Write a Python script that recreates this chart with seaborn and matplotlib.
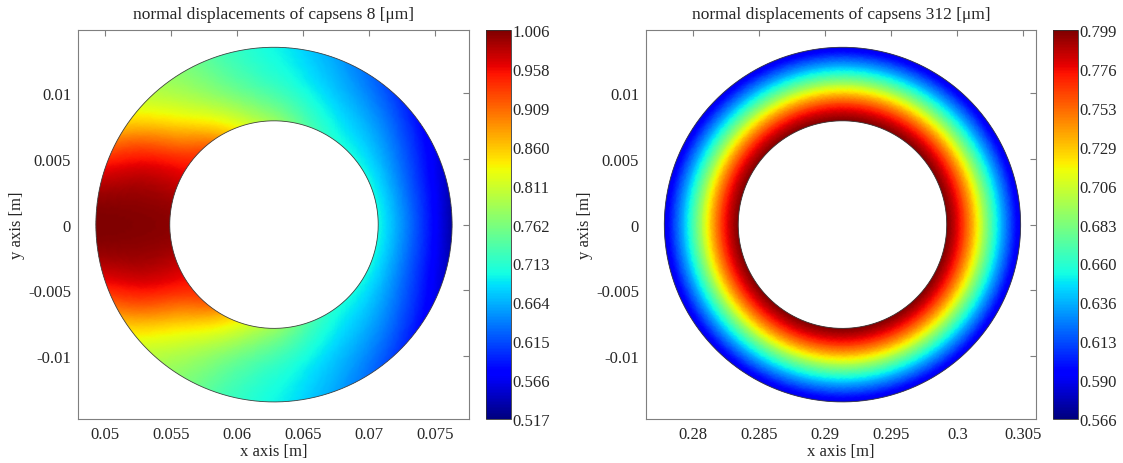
import numpy as np
import matplotlib
matplotlib.use("Agg")
import matplotlib.pyplot as plt
import matplotlib.tri as mtri
from matplotlib.path import Path
from matplotlib.patches import PathPatch
import seaborn as sns

# ring geometry [m]
r_inner = 0.0079
r_outer = 0.0135
cap8_cx = 0.0628
cap312_cx = 0.2913

# node angles (deg) on the upper half, lower half is mirrored
cap8_angles = np.arange(0, 181, 15)

# capsens 8 displacement [um] at inner / mid / outer radius
cap8_radii = [r_inner, 0.0107, r_outer]
cap8_inner = [0.700, 0.700, 0.700, 0.702, 0.715, 0.745, 0.780, 0.815, 0.870, 0.925, 0.960, 0.990, 1.000]
cap8_mid = [0.620, 0.622, 0.636, 0.655, 0.672, 0.695, 0.720, 0.750, 0.795, 0.855, 0.940, 0.990, 1.004]
cap8_outer = [0.530, 0.545, 0.570, 0.600, 0.635, 0.668, 0.698, 0.725, 0.765, 0.805, 0.885, 0.975, 1.006]

# capsens 312: radial profile, same all round
cap312_angles = np.arange(0, 181, 5)
cap312_radii = [r_inner, 0.0093, 0.0107, 0.0121, r_outer]
cap312_profile = [0.799, 0.758, 0.695, 0.635, 0.585]

cap8_ticks = ["0.517", "0.566", "0.615", "0.664", "0.713", "0.762", "0.811", "0.860", "0.909", "0.958", "1.006"]
cap312_ticks = ["0.566", "0.590", "0.613", "0.636", "0.660", "0.683", "0.706", "0.729", "0.753", "0.776", "0.799"]

sns.set_style("white")
plt.rcParams["font.family"] = ["Liberation Serif", "DejaVu Serif"]
plt.rcParams["font.size"] = 12
jet = matplotlib.colormaps["jet"]  # seaborn refuses to hand out jet
edge = "#7f7f7f"


def ring(ax, cx, angles, radii, vals, vmin, vmax):
    vals = np.asarray(vals, dtype=float)
    n = len(angles)
    # full circle without the duplicate at -180
    full = np.concatenate([vals[:, n - 2:0:-1], vals], axis=1)
    th_deg = np.concatenate([-angles[n - 2:0:-1], angles])
    th = np.deg2rad(th_deg)
    step = np.deg2rad(angles[1] - angles[0])
    rr = np.array(radii, dtype=float)
    rr[-1] = rr[-1] / np.cos(step / 2)  # chords have to cover the outer circle
    R, T = np.meshgrid(rr, th, indexing="ij")
    x = (cx + R * np.cos(T)).ravel()
    y = (R * np.sin(T)).ravel()
    m = len(th)
    tris = []
    for i in range(len(rr) - 1):
        for j in range(m):
            a, b = i * m + j, i * m + (j + 1) % m
            c, d = (i + 1) * m + (j + 1) % m, (i + 1) * m + j
            if 0 <= th_deg[j] < 180:
                tris += [[a, b, c], [a, c, d]]
            else:  # mirrored diagonal so both halves match
                tris += [[a, b, d], [b, c, d]]
    tri = mtri.Triangulation(x, y, np.array(tris))
    z = full.ravel()
    interp = mtri.CubicTriInterpolator(tri, z, kind="min_E")
    tri_f, z_f = mtri.UniformTriRefiner(tri).refine_field(z, triinterpolator=interp, subdiv=4)
    mesh = ax.tripcolor(tri_f, z_f, shading="gouraud", cmap=jet, vmin=vmin, vmax=vmax)

    t = np.linspace(0, 2 * np.pi, 500)
    outer = np.column_stack([cx + r_outer * np.cos(t), r_outer * np.sin(t)])
    inner = np.column_stack([cx + r_inner * np.cos(t[::-1]), r_inner * np.sin(t[::-1])])
    codes = [Path.MOVETO] + [Path.LINETO] * (len(t) - 1)
    patch = PathPatch(Path(np.vstack([outer, inner]), codes + codes),
                      facecolor="none", edgecolor="#444444", lw=0.6)
    ax.add_patch(patch)
    mesh.set_clip_path(patch)
    return mesh


def style(ax, title):
    ax.set_title(title, fontsize=12.5, pad=9)
    ax.set_xlabel("x axis [m]", labelpad=1)
    ax.set_ylabel("y axis [m]", labelpad=2)
    ax.set_ylim(-0.0148, 0.0148)
    ax.set_yticks([-0.01, -0.005, 0, 0.005, 0.01])
    ax.set_yticklabels(["-0.01", "-0.005", "0", "0.005", "0.01"])
    ax.tick_params(direction="in", top=True, right=True, length=4, color=edge, pad=5)
    for s in ax.spines.values():
        s.set_color(edge)
        s.set_linewidth(0.8)


def cbar(fig, mesh, cax, vmin, vmax, labels):
    cb = fig.colorbar(mesh, cax=cax, ticks=np.linspace(vmin, vmax, 11))
    cb.ax.set_yticklabels(labels)
    cb.ax.tick_params(length=0, pad=1)
    cb.outline.set_linewidth(0.6)
    cb.outline.set_edgecolor("#333333")


fig = plt.figure(figsize=(11.23, 4.64), dpi=100)
ax1 = fig.add_axes([0.0695, 0.0948, 0.348, 0.838])
cax1 = fig.add_axes([0.4328, 0.0948, 0.0223, 0.838])
ax2 = fig.add_axes([0.5752, 0.0948, 0.3473, 0.838])
cax2 = fig.add_axes([0.9377, 0.0948, 0.0223, 0.838])

m1 = ring(ax1, cap8_cx, cap8_angles, cap8_radii, [cap8_inner, cap8_mid, cap8_outer], 0.517, 1.006)
style(ax1, "normal displacements of capsens 8 [μm]")
ax1.set_xlim(0.04795, 0.07757)
ax1.set_xticks([0.05, 0.055, 0.06, 0.065, 0.07, 0.075])
ax1.set_xticklabels(["0.05", "0.055", "0.06", "0.065", "0.07", "0.075"])
cbar(fig, m1, cax1, 0.517, 1.006, cap8_ticks)

vals312 = np.tile(np.array(cap312_profile)[:, None], (1, len(cap312_angles)))
m2 = ring(ax2, cap312_cx, cap312_angles, cap312_radii, vals312, 0.566, 0.799)
style(ax2, "normal displacements of capsens 312 [μm]")
ax2.set_xlim(0.27641, 0.30596)
ax2.set_xticks([0.28, 0.285, 0.29, 0.295, 0.3, 0.305])
ax2.set_xticklabels(["0.28", "0.285", "0.29", "0.295", "0.3", "0.305"])
cbar(fig, m2, cax2, 0.566, 0.799, cap312_ticks)

fig.savefig("out.png", dpi=100)
